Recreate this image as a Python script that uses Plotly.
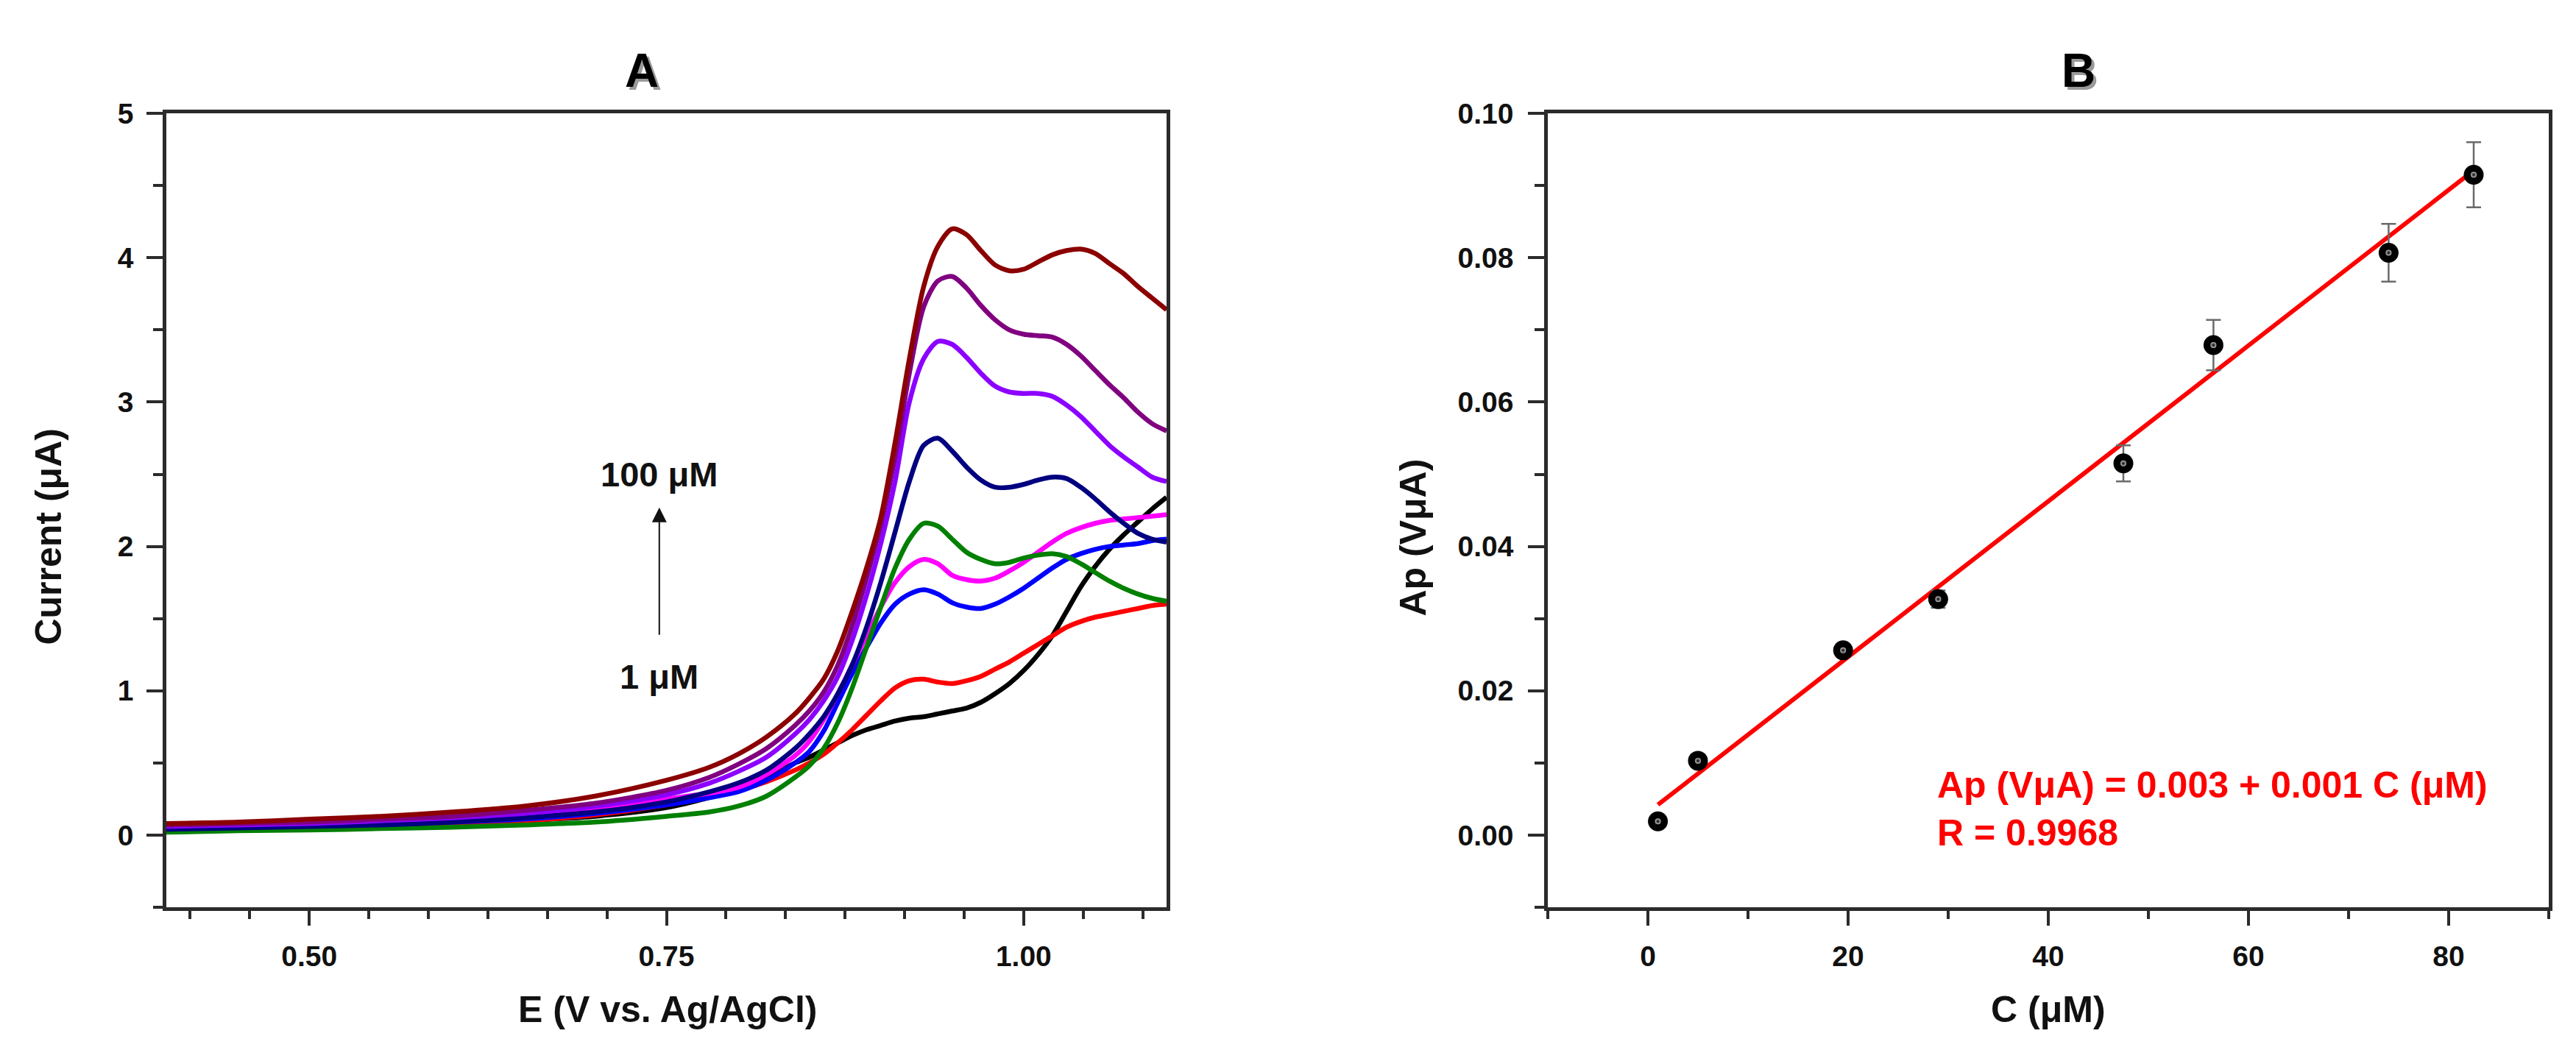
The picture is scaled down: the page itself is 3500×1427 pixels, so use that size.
import plotly.graph_objects as go

W, H = 3500, 1427

# ---------------- Panel A data (DPV curves) ----------------
E = [0.40, 0.45, 0.50, 0.55, 0.60, 0.65, 0.70, 0.75, 0.78, 0.80, 0.82, 0.84,
     0.85, 0.86, 0.87, 0.88, 0.89, 0.90, 0.91, 0.92, 0.93, 0.94, 0.95, 0.96,
     0.97, 0.98, 0.99, 1.00, 1.01, 1.02, 1.03, 1.04, 1.05, 1.06, 1.07, 1.08,
     1.09, 1.10]

I_black = [0.03, 0.04, 0.05, 0.06, 0.08, 0.10, 0.13, 0.19, 0.26, 0.32, 0.40, 0.50,
           0.54, 0.59, 0.64, 0.69, 0.73, 0.76, 0.79, 0.81, 0.82, 0.84, 0.86, 0.88,
           0.92, 0.98, 1.05, 1.14, 1.25, 1.38, 1.55, 1.72, 1.86, 1.98, 2.08, 2.17,
           2.26, 2.34]
I_red = [0.03, 0.04, 0.05, 0.06, 0.08, 0.10, 0.14, 0.21, 0.27, 0.31, 0.37, 0.45,
         0.50, 0.56, 0.64, 0.73, 0.83, 0.93, 1.02, 1.07, 1.08, 1.06, 1.05, 1.07,
         1.10, 1.15, 1.20, 1.26, 1.32, 1.38, 1.44, 1.48, 1.51, 1.53, 1.55, 1.57,
         1.59, 1.60]
I_blue = [0.04, 0.05, 0.06, 0.07, 0.09, 0.11, 0.15, 0.21, 0.26, 0.30, 0.38, 0.50,
          0.58, 0.72, 0.92, 1.12, 1.30, 1.47, 1.60, 1.67, 1.70, 1.67, 1.61, 1.58,
          1.57, 1.60, 1.65, 1.71, 1.78, 1.85, 1.91, 1.95, 1.98, 2.00, 2.01, 2.02,
          2.04, 2.05]
I_magenta = [0.05, 0.06, 0.07, 0.09, 0.11, 0.14, 0.18, 0.25, 0.29, 0.33, 0.42, 0.55,
             0.65, 0.80, 0.98, 1.18, 1.38, 1.58, 1.75, 1.86, 1.91, 1.88, 1.80, 1.77,
             1.76, 1.78, 1.83, 1.89, 1.96, 2.03, 2.09, 2.13, 2.16, 2.18, 2.19, 2.20,
             2.21, 2.22]
I_green = [0.02, 0.03, 0.035, 0.045, 0.055, 0.07, 0.09, 0.13, 0.16, 0.20, 0.27, 0.40,
           0.48, 0.60, 0.78, 1.02, 1.30, 1.58, 1.85, 2.05, 2.16, 2.14, 2.05, 1.96,
           1.91, 1.88, 1.89, 1.92, 1.94, 1.95, 1.93, 1.88, 1.82, 1.76, 1.71, 1.67,
           1.64, 1.62]
I_navy = [0.04, 0.05, 0.06, 0.07, 0.09, 0.12, 0.16, 0.23, 0.30, 0.36, 0.45, 0.60,
          0.70, 0.82, 0.98, 1.18, 1.44, 1.75, 2.10, 2.45, 2.70, 2.75, 2.66, 2.55,
          2.46, 2.41, 2.41, 2.43, 2.46, 2.48, 2.47, 2.41, 2.33, 2.24, 2.16, 2.09,
          2.05, 2.03]
I_violet = [0.06, 0.07, 0.08, 0.10, 0.12, 0.15, 0.20, 0.28, 0.36, 0.44, 0.54, 0.70,
            0.80, 0.93, 1.10, 1.35, 1.66, 2.02, 2.45, 3.00, 3.30, 3.42, 3.40, 3.31,
            3.20, 3.11, 3.07, 3.06, 3.06, 3.04, 2.98, 2.90, 2.80, 2.70, 2.62, 2.55,
            2.48, 2.45]
I_purple = [0.07, 0.08, 0.09, 0.11, 0.13, 0.17, 0.22, 0.31, 0.40, 0.49, 0.60, 0.76,
            0.86, 0.99, 1.18, 1.45, 1.78, 2.15, 2.62, 3.20, 3.66, 3.84, 3.87, 3.79,
            3.67, 3.57, 3.50, 3.47, 3.46, 3.45, 3.40, 3.32, 3.22, 3.12, 3.03, 2.93,
            2.85, 2.80]
I_darkred = [0.08, 0.09, 0.11, 0.13, 0.16, 0.20, 0.27, 0.38, 0.47, 0.56, 0.68, 0.84,
             0.95, 1.08, 1.28, 1.55, 1.85, 2.20, 2.72, 3.30, 3.80, 4.08, 4.20, 4.16,
             4.05, 3.95, 3.91, 3.92, 3.97, 4.02, 4.05, 4.06, 4.03, 3.96, 3.89, 3.80,
             3.72, 3.64]

CURVES = [I_black, I_red, I_blue, I_magenta, I_green, I_navy, I_violet, I_purple, I_darkred]
CURVE_COLORS = ["#000000", "#FF0000", "#0000FF", "#FF00FF", "#008000",
                "#000080", "#8C00FF", "#800080", "#8B0000"]

# ---------------- Panel B data (calibration) ----------------
C_uM = [1, 5, 19.5, 29, 47.5, 56.5, 74, 82.5]
Ap = [0.0019, 0.0103, 0.0256, 0.0327, 0.0515, 0.0679, 0.0807, 0.0915]
Ap_err = [0.0003, 0.0004, 0.0008, 0.0012, 0.0025, 0.0035, 0.0040, 0.0045]
FIT_X = [1, 82.5]
FIT_Y = [0.0042, 0.0921]

FONT = "Liberation Sans, Arial, sans-serif"
AXC = "#2b2b2b"

def px(x):
    return x / W

def py(y):
    return 1 - y / H

fig = go.Figure()

for ys, col in zip(CURVES, CURVE_COLORS):
    fig.add_trace(go.Scatter(x=E, y=ys, mode="lines",
                             line=dict(color=col, width=6.5, shape="spline", smoothing=0.8),
                             xaxis="x", yaxis="y", showlegend=False))

fig.add_trace(go.Scatter(x=FIT_X, y=FIT_Y, mode="lines",
                         line=dict(color="#FF0000", width=6),
                         xaxis="x2", yaxis="y2", showlegend=False))
fig.add_trace(go.Scatter(x=C_uM, y=Ap, mode="markers",
                         marker=dict(size=27, color="#000000"),
                         error_y=dict(type="data", array=Ap_err, color="#6a6a6a",
                                      thickness=2.5, width=10),
                         xaxis="x2", yaxis="y2", showlegend=False))
fig.add_trace(go.Scatter(x=C_uM, y=Ap, mode="markers",
                         marker=dict(size=8, color="#bdbdbd",
                                     gradient=dict(type="radial", color="#000000")),
                         xaxis="x2", yaxis="y2", showlegend=False, hoverinfo="skip"))

tickfont = dict(family=FONT, size=39, color="#111111", weight="bold")

def axis_common():
    return dict(showline=True, linewidth=4.5, linecolor=AXC, mirror=True,
                showgrid=False, zeroline=False, ticks="outside", tickwidth=4,
                tickcolor=AXC, tickfont=tickfont)

xa = axis_common()
xa.update(domain=[px(218), px(1577)], range=[0.4, 1.1], tick0=0.5, dtick=0.25,
          tickformat=".2f", ticklen=20, anchor="y", ticklabelstandoff=8,
          minor=dict(ticks="outside", ticklen=11, tickwidth=4, tickcolor=AXC,
                     tick0=0.5, dtick=0.25 / 6, showgrid=False))
ya = axis_common()
ya.update(domain=[py(1222), py(127)], range=[-0.5, 5], tick0=0, dtick=1,
          ticklen=22, anchor="x", ticklabelstandoff=10,
          minor=dict(ticks="outside", ticklen=13, tickwidth=4, tickcolor=AXC,
                     tick0=0, dtick=0.5, showgrid=False))
xb = axis_common()
xb.update(domain=[px(2095), px(3455)], range=[-10, 90], tick0=0, dtick=20,
          ticklen=20, anchor="y2", ticklabelstandoff=8,
          minor=dict(ticks="outside", ticklen=11, tickwidth=4, tickcolor=AXC,
                     tick0=0, dtick=10, showgrid=False))
yb = axis_common()
yb.update(domain=[py(1222), py(127)], range=[-0.01, 0.10], tick0=0, dtick=0.02,
          tickformat=".2f", ticklen=22, anchor="x2", ticklabelstandoff=12,
          minor=dict(ticks="outside", ticklen=13, tickwidth=4, tickcolor=AXC,
                     tick0=0, dtick=0.01, showgrid=False))

titlefont = dict(family=FONT, size=50, color="#111111", weight="bold")
anns = []

def ptext(text, x, y, font, angle=0, xanchor="center", yanchor="middle"):
    anns.append(dict(text=text, x=px(x), y=py(y), xref="paper", yref="paper",
                     showarrow=False, font=font, textangle=angle,
                     xanchor=xanchor, yanchor=yanchor))

# axis titles
ptext("Current (\u03bcA)", 58, 711, titlefont, angle=-90)
ptext("E (V vs. Ag/AgCl)", 900, 1363, titlefont)
ptext("Ap (V\u03bcA)", 1912, 712, titlefont, angle=-90)
ptext("C (\u03bcM)", 2775, 1363, titlefont)

# panel letters with a soft shadow
for lab, cx in (("A", 864), ("B", 2816)):
    ptext(lab, cx + 4, 72, dict(family=FONT, size=64, color="#9a9a9a", weight="bold"))
    ptext(lab, cx, 68, dict(family=FONT, size=64, color="#000000", weight="bold"))

# equation
redfont = dict(family=FONT, size=50, color="#FF0000", weight="bold")
ptext("Ap (V\u03bcA) = 0.003 + 0.001 C (\u03bcM)", 2622, 1054, redfont, xanchor="left")
ptext("R = 0.9968", 2622, 1119, redfont, xanchor="left")

# concentration labels and arrow in panel A
labfont = dict(family=FONT, size=47, color="#111111", weight="bold")
anns.append(dict(text="100 \u03bcM", x=0.745, y=2.5, xref="x", yref="y",
                 showarrow=False, font=labfont))
anns.append(dict(text="1 \u03bcM", x=0.745, y=1.1, xref="x", yref="y",
                 showarrow=False, font=labfont))
anns.append(dict(text="", x=0.745, y=2.27, xref="x", yref="y",
                 ax=0.745, ay=1.38, axref="x", ayref="y",
                 showarrow=True, arrowhead=2, arrowsize=2, arrowwidth=2,
                 arrowcolor="#111111"))

fig.update_layout(width=W, height=H, margin=dict(l=0, r=0, t=0, b=0),
                  paper_bgcolor="white", plot_bgcolor="white",
                  xaxis=xa, yaxis=ya, xaxis2=xb, yaxis2=yb,
                  annotations=anns, showlegend=False)

fig.write_html("out.html")
